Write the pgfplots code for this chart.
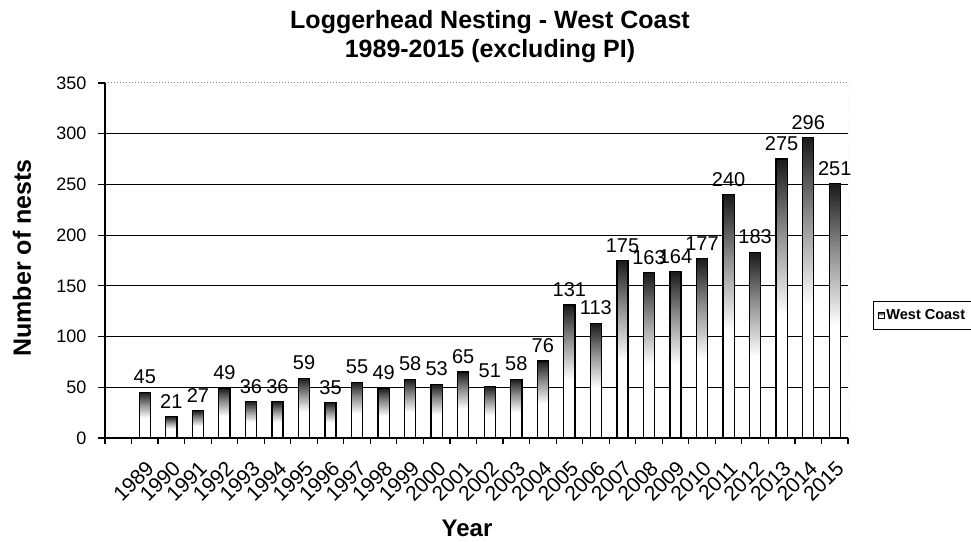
\documentclass[border=0pt]{standalone}
\usepackage{fontspec}
\setmainfont{Liberation Sans}
\usepackage{pgfplots}
\pgfplotsset{compat=1.18}
\pgfdeclareverticalshading{barshade}{100bp}{color(0bp)=(white); color(25bp)=(white); color(47bp)=(white); color(62bp)=(black!45); color(75bp)=(black!90); color(100bp)=(black!90)}
\pgfplotsset{barst/.style={ybar, bar width=0.42, bar shift=0pt, draw=black, line width=1.3pt, shading=barshade,
  nodes near coords,
  every node near coord/.append style={font=\fontsize{20}{20}\selectfont, yshift=7pt, inner sep=1pt, line width=0.4pt}}}
\begin{document}
\begin{tikzpicture}[x=1pt,y=1pt]
\path[use as bounding box] (0,0) rectangle (971,541);
\begin{axis}[
  at={(105pt,103pt)}, anchor=south west,
  scale only axis, width=743pt, height=355pt,
  xmin=-0.5, xmax=27.5, ymin=0, ymax=350,
  /pgf/number format/assume math mode=true,
  axis x line*=bottom, axis y line*=left,
  axis line style={black, line width=1.3pt},
  tick align=outside,
  ytick={0,50,...,300},
  extra y ticks={350},
  extra y tick style={ymajorgrids=false},
  ymajorgrids,
  major grid style={black, line width=1pt},
  major tick length=7pt,
  tick style={black, line width=1.2pt},
  xtick={1,...,27},
  xticklabels={1989,1990,1991,1992,1993,1994,1995,1996,1997,1998,1999,2000,2001,2002,2003,2004,2005,2006,2007,2008,2009,2010,2011,2012,2013,2014,2015},
  major x tick style={draw=none},
  minor xtick={-0.5,0.5,...,27.5},
  minor tick length=6pt,
  minor x tick style={black, line width=1.2pt},
  xticklabel style={rotate=45, anchor=north east, font=\fontsize{21}{21}\selectfont, inner sep=0pt, yshift=-10pt, xshift=-10pt},
  yticklabel style={font=\fontsize{18}{18}\selectfont, xshift=-8pt},
  legend style={at={(1.0337,0.386)}, anchor=north west, draw=black, line width=1.2pt, font=\bfseries\fontsize{14.5}{14.5}\selectfont, inner xsep=4pt, inner ysep=6pt},
  legend image code/.code={\draw[black, line width=0.8pt, fill=white] (0pt,-3pt) rectangle (6pt,3pt);},
]
\addplot[barst] coordinates {(1,45)};
\addlegendentry{West Coast}
\addplot[barst, forget plot] coordinates {(2,21)};
\addplot[barst, forget plot] coordinates {(3,27)};
\addplot[barst, forget plot] coordinates {(4,49)};
\addplot[barst, forget plot] coordinates {(5,36)};
\addplot[barst, forget plot] coordinates {(6,36)};
\addplot[barst, forget plot] coordinates {(7,59)};
\addplot[barst, forget plot] coordinates {(8,35)};
\addplot[barst, forget plot] coordinates {(9,55)};
\addplot[barst, forget plot] coordinates {(10,49)};
\addplot[barst, forget plot] coordinates {(11,58)};
\addplot[barst, forget plot] coordinates {(12,53)};
\addplot[barst, forget plot] coordinates {(13,65)};
\addplot[barst, forget plot] coordinates {(14,51)};
\addplot[barst, forget plot] coordinates {(15,58)};
\addplot[barst, forget plot] coordinates {(16,76)};
\addplot[barst, forget plot] coordinates {(17,131)};
\addplot[barst, forget plot] coordinates {(18,113)};
\addplot[barst, forget plot] coordinates {(19,175)};
\addplot[barst, forget plot] coordinates {(20,163)};
\addplot[barst, forget plot] coordinates {(21,164)};
\addplot[barst, forget plot] coordinates {(22,177)};
\addplot[barst, forget plot] coordinates {(23,240)};
\addplot[barst, forget plot] coordinates {(24,183)};
\addplot[barst, forget plot] coordinates {(25,275)};
\addplot[barst, forget plot] coordinates {(26,296)};
\addplot[barst, forget plot] coordinates {(27,251)};
\draw[gray, dotted, line width=1pt] (rel axis cs:0,1) -- (rel axis cs:1,1) -- (rel axis cs:1,0);
\end{axis}
\node[font=\bfseries\fontsize{25}{29}\selectfont, align=center] at (490,504) {Loggerhead Nesting - West Coast\\1989-2015 (excluding PI)};
\node[font=\bfseries\fontsize{25}{25}\selectfont, rotate=90] at (22,283) {Number of nests};
\node[font=\bfseries\fontsize{24}{24}\selectfont] at (467,13) {Year};
\end{tikzpicture}
\end{document}
